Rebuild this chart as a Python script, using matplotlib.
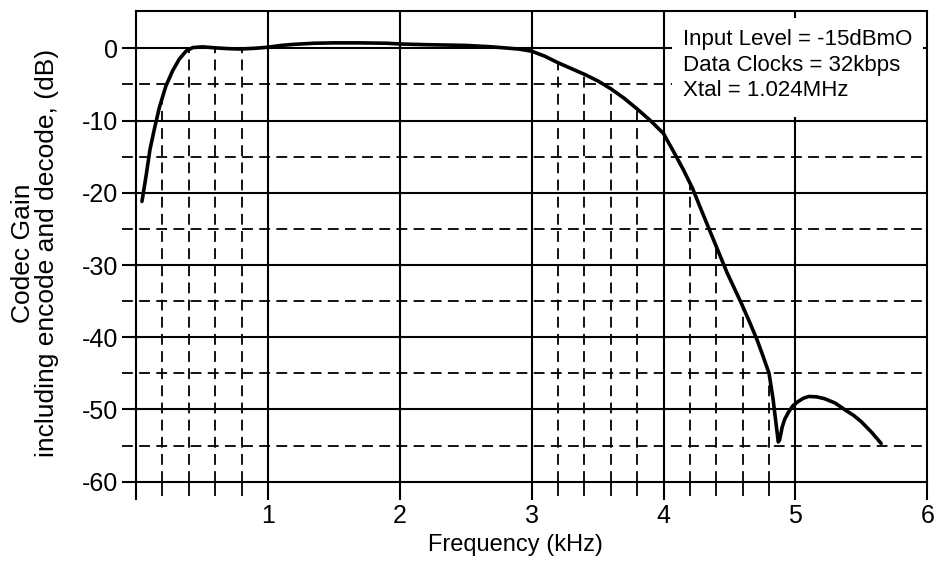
import matplotlib
matplotlib.use("Agg")
import matplotlib.pyplot as plt
import numpy as np
from matplotlib.patches import Rectangle

# codec frequency response (kHz, dB)
freq = [0.045, 0.076, 0.106, 0.139, 0.177, 0.227, 0.278, 0.328, 0.379, 0.43,
        0.505, 0.61, 0.70, 0.79, 0.90, 1.00, 1.10, 1.20, 1.35, 1.50, 1.70,
        1.90, 2.00, 2.20, 2.50, 2.70, 2.80, 2.90, 3.00, 3.10, 3.20, 3.30,
        3.40, 3.50, 3.60, 3.70, 3.80, 3.90, 3.95, 4.00, 4.03, 4.07, 4.15,
        4.22, 4.30, 4.39, 4.48, 4.59, 4.65, 4.71, 4.76, 4.80, 4.83, 4.85,
        4.87, 4.88, 4.90, 4.92, 4.95, 4.98, 5.02, 5.06, 5.10, 5.16, 5.22,
        5.30, 5.38, 5.44, 5.50, 5.58, 5.65]
gain = [-21.2, -17.7, -14.0, -11.2, -8.2, -5.2, -3.1, -1.5, -0.4, 0.1,
        0.2, 0.05, -0.05, -0.1, 0.0, 0.15, 0.4, 0.55, 0.7, 0.75, 0.75,
        0.7, 0.6, 0.5, 0.4, 0.2, 0.05, -0.1, -0.4, -1.1, -2.0, -2.8,
        -3.6, -4.5, -5.6, -6.9, -8.4, -10.0, -10.9, -11.8, -12.8, -14.1, -16.8,
        -19.4, -23.0, -27.0, -31.0, -35.3, -37.8, -40.4, -42.9, -45.0, -48.5, -51.5,
        -54.5, -54.2, -52.4, -51.3, -50.3, -49.5, -48.9, -48.45, -48.2, -48.25, -48.5,
        -49.1, -50.1, -50.8, -51.7, -53.2, -54.7]

# frequencies where dashed drop lines are drawn up to the curve
marker_freqs = [0.2, 0.4, 0.6, 0.8, 3.2, 3.4, 3.6, 3.8, 4.2, 4.4, 4.6, 4.8]

x_ticks = [0, 1, 2, 3, 4, 5, 6]
x_tick_labels = ["", "1", "2", "3", "4", "5", "6"]
y_ticks = [0, -10, -20, -30, -40, -50, -60]
y_half = [-5, -15, -25, -35, -45, -55]

note_lines = ["Input Level = -15dBmO", "Data Clocks = 32kbps", "Xtal = 1.024MHz"]

plt.rcParams['font.family'] = 'Liberation Sans'

fig = plt.figure(figsize=(9.38, 5.65), dpi=100)
ax = fig.add_axes([0.145, 0.1474, 0.8436, 0.8336])
ax.set_xlim(0, 6)
ax.set_ylim(-60, 5.2)

# solid grid at the major values
ax.vlines(x_ticks[1:-1], -60, 5.2, color='black', lw=1.5, zorder=1)
ax.hlines(y_ticks[:-1], 0, 6, color='black', lw=1.5, zorder=1)

# dashed half-decade lines, poking out past the left spine like ticks
for y in y_half:
    ax.plot([-0.105, 6], [y, y], color='black', lw=1.3,
            linestyle=(0, (6, 3.5)), clip_on=False, zorder=1)

# dashed drop lines from the bottom up to the curve
tops = np.interp(marker_freqs, freq, gain)
ax.vlines(marker_freqs, -60, tops, color='black', lw=1.3,
          linestyle=(0, (6, 3.5)), zorder=1)

# white note box over the grid
ax.add_patch(Rectangle((4.064, -9.5), 1.903, 13.7, facecolor='white',
                       edgecolor='none', zorder=3))
ax.text(4.147, 2.7, "\n".join(note_lines), fontsize=16, ha='left', va='top',
        linespacing=1.3, zorder=4)

ax.plot(freq, gain, color='black', lw=2.6, solid_capstyle='round',
        solid_joinstyle='round', zorder=5)

for s in ax.spines.values():
    s.set_linewidth(1.5)

ax.set_xticks(x_ticks)
ax.set_xticklabels(x_tick_labels)
ax.set_xticks(marker_freqs, minor=True)
ax.set_yticks(y_ticks)
ax.set_yticklabels([str(v) for v in y_ticks])
ax.tick_params(axis='x', which='major', length=13, width=1.5, labelsize=18, pad=3)
ax.tick_params(axis='x', which='minor', length=10, width=1.3)
ax.tick_params(axis='y', which='major', length=10, width=1.5, labelsize=18, pad=3)
ax.tick_params(axis='y', which='minor', length=0)

ax.set_xlabel("Frequency (kHz)", fontsize=17)
ax.xaxis.set_label_coords(0.479, -0.11)
fig.text(0.037, 0.552, "Codec Gain\nincluding encode and decode, (dB)",
         rotation=90, ha='center', va='center', multialignment='center',
         fontsize=19, linespacing=1.0)

fig.savefig("out.png", dpi=100)
